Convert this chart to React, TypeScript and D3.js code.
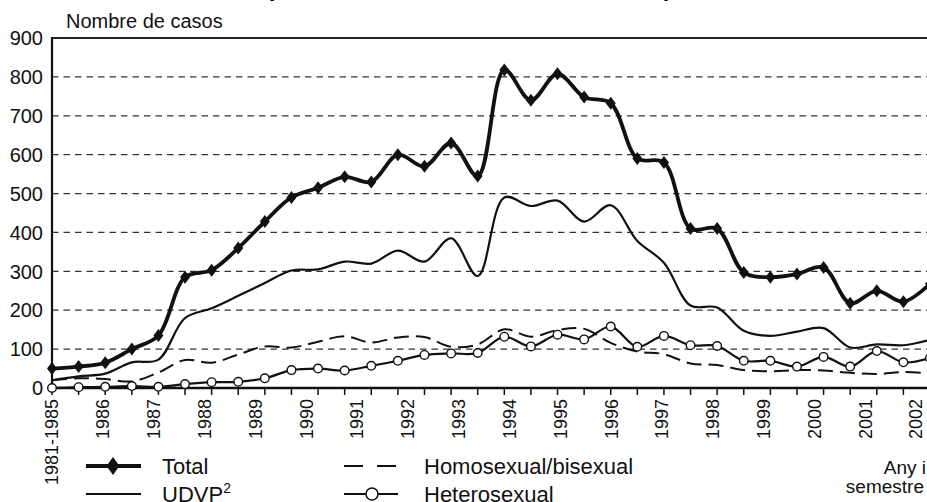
import * as d3 from "d3";

// values per semester, 1981-1985 first, then two points a year up to 2002
const total = [50, 55, 65, 100, 135, 285, 303, 360, 428, 490, 515, 543, 530, 600, 570, 630, 545, 818, 740, 808, 748, 732, 590, 580, 410, 410, 297, 285, 293, 310, 218, 250, 222, 268];
const udvp = [20, 30, 37, 66, 73, 180, 205, 237, 270, 302, 305, 325, 320, 353, 325, 385, 288, 490, 468, 482, 428, 470, 378, 322, 212, 207, 147, 134, 145, 154, 104, 112, 110, 124];
const homoBi = [20, 25, 23, 17, 40, 72, 65, 86, 107, 104, 119, 133, 117, 130, 131, 106, 112, 151, 132, 149, 152, 116, 94, 87, 63, 59, 46, 43, 46, 45, 39, 36, 41, 38];
const hetero = [0, 2, 3, 5, 3, 10, 15, 16, 25, 46, 50, 45, 57, 70, 85, 89, 90, 132, 107, 137, 125, 158, 106, 134, 110, 108, 70, 70, 55, 80, 55, 95, 66, 77];

const yearLabels = ["1981-1985", "1986", "1987", "1988", "1989", "1990", "1991", "1992", "1993", "1994", "1995", "1996", "1997", "1998", "1999", "2000", "2001", "2002"];
const yTicks = [0, 100, 200, 300, 400, 500, 600, 700, 800, 900];

const W = 927;
const H = 502;
const FONT = "'Liberation Sans', Arial, Helvetica, sans-serif";

export default function App() {
  const idx = d3.range(total.length);
  const x = d3.scaleLinear().domain([0, 33]).range([52, 930]);
  const y = d3.scaleLinear().domain([0, 900]).range([388, 38]);
  const xl = d3.scalePoint().domain(yearLabels).range([52, 916]);

  const line = (vals: number[]) =>
    d3
      .line<number>()
      .x((_, i) => x(i))
      .y((d) => y(d))
      .curve(d3.curveCatmullRom.alpha(0.5))(vals) || "";

  const diamond = (cx: number, cy: number, w: number, h: number) =>
    `M${cx},${cy - h}L${cx + w},${cy}L${cx},${cy + h}L${cx - w},${cy}Z`;

  return (
    <svg
      width={W}
      height={H}
      style={{ position: "absolute", left: 0, top: 0, background: "#fff" }}
      fontFamily={FONT}
    >
      {/* title, mostly cut off at the top */}
      <text x={270} y={-4} fontSize={24} fontWeight="bold" textAnchor="middle">(</text>
      <text x={668} y={-4} fontSize={24} fontWeight="bold" textAnchor="middle">)</text>

      <text x={66} y={28} fontSize={20} fill="#111">Nombre de casos</text>

      {/* grid */}
      {yTicks.filter((t) => t > 0 && t < 900).map((t) => (
        <line key={t} x1={x(0)} x2={W} y1={y(t)} y2={y(t)} stroke="#333" strokeWidth={1.3} strokeDasharray="6.5,5" />
      ))}
      <line x1={x(0)} x2={W} y1={y(900)} y2={y(900)} stroke="#222" strokeWidth={2} />

      {yTicks.map((t) => (
        <text key={t} x={43} y={y(t)} dy="0.36em" fontSize={20} textAnchor="end" fill="#111">
          {t}
        </text>
      ))}

      {/* axes */}
      <line x1={x(0)} x2={x(0)} y1={y(900) - 1} y2={y(0)} stroke="#111" strokeWidth={2.2} />
      <line x1={x(0)} x2={W} y1={y(0)} y2={y(0)} stroke="#111" strokeWidth={2.5} />
      {idx.map((i) => (
        <line key={i} x1={x(i)} x2={x(i)} y1={y(0)} y2={y(0) + 7} stroke="#111" strokeWidth={1.5} />
      ))}
      {yearLabels.map((l) => (
        <text
          key={l}
          transform={`translate(${xl(l)},399) rotate(-90)`}
          dy="0.36em"
          fontSize={18}
          textAnchor="end"
          fill="#111"
        >
          {l}
        </text>
      ))}

      {/* series */}
      <path d={line(homoBi)} fill="none" stroke="#111" strokeWidth={2} strokeDasharray="15,7" />
      <path d={line(udvp)} fill="none" stroke="#111" strokeWidth={2.2} />
      <path d={line(hetero)} fill="none" stroke="#111" strokeWidth={2.2} />
      {hetero.map((v, i) => (
        <circle key={i} cx={x(i)} cy={y(v)} r={4.3} fill="#fff" stroke="#111" strokeWidth={1.4} />
      ))}
      <path d={line(total)} fill="none" stroke="#111" strokeWidth={3.8} />
      {total.map((v, i) => (
        <path key={i} d={diamond(x(i), y(v), 5, 6.5)} fill="#111" />
      ))}

      {/* legend */}
      <line x1={86} x2={141} y1={466} y2={466} stroke="#111" strokeWidth={3.8} />
      <path d={diamond(113, 466, 6.5, 9)} fill="#111" />
      <text x={162} y={474} fontSize={22} fill="#111">Total</text>

      <line x1={86} x2={141} y1={494} y2={494} stroke="#111" strokeWidth={2.2} />
      <text x={162} y={502} fontSize={22} fill="#111">
        UDVP<tspan fontSize={14} dy={-9}>2</tspan>
      </text>

      <line x1={344} x2={397} y1={466} y2={466} stroke="#111" strokeWidth={2.2} strokeDasharray="19,14" />
      <text x={424} y={474} fontSize={22} fill="#111">Homosexual/bisexual</text>

      <line x1={344} x2={398} y1={494} y2={494} stroke="#111" strokeWidth={2.2} />
      <circle cx={372} cy={494} r={6} fill="#fff" stroke="#111" strokeWidth={1.5} />
      <text x={424} y={502} fontSize={22} fill="#111">Heterosexual</text>

      <text x={926} y={474} fontSize={19} textAnchor="end" fill="#111">Any i</text>
      <text x={924} y={493} fontSize={19} textAnchor="end" fill="#111">semestre</text>
    </svg>
  );
}
